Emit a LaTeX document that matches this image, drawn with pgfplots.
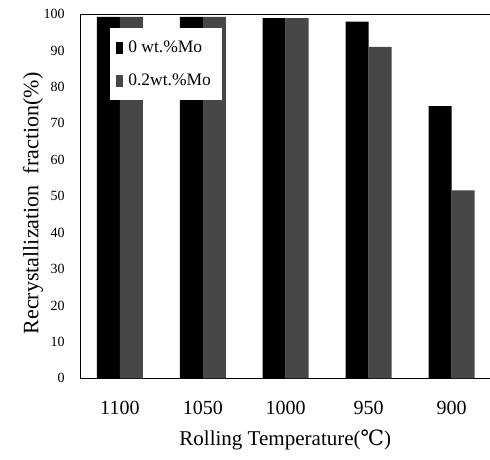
\documentclass[border=0pt]{standalone}
\usepackage{pgfplots}
\pgfplotsset{compat=1.18}
\usepackage{fontspec}
\setmainfont{Liberation Serif}
\newfontfamily\dejavu{DejaVu Serif}
\definecolor{mogray}{gray}{0.28}
\begin{document}
\begin{tikzpicture}
\path[use as bounding box] (-80pt,-81pt) rectangle (409.5pt,378pt);
\begin{axis}[
  at={(0pt,0pt)}, anchor=south west,
  scale only axis, width=410pt, height=364pt,
  ybar=0pt, bar width=23pt,
  xmin=-0.48, xmax=4.47, ymin=0, ymax=100,
  xtick={0,1,2,3,4}, xticklabels={1100,1050,1000,950,900},
  ytick={0,10,...,100},
  major tick length=0pt,
  /pgf/number format/assume math mode=true,
  xticklabel style={font=\fontsize{20}{20}\selectfont, anchor=center, yshift=-30pt},
  yticklabel style={font=\fontsize{14}{14}\selectfont, anchor=east, xshift=-12pt},
  xlabel={Rolling Temperature({\dejavu ℃})},
  xlabel style={font=\fontsize{21}{21}\selectfont, at={(axis description cs:0.5,0)}, anchor=center, yshift=-62pt},
  ylabel={Recrystallization\ \ fraction(\%)},
  ylabel style={font=\fontsize{22}{22}\selectfont, at={(axis description cs:-0.115,0.48)}, anchor=center},
  axis line style={line width=0.8pt},
  legend style={at={(axis description cs:0.073,0.962)}, anchor=north west, draw=none, fill=white,
    font=\fontsize{17.5}{17.5}\selectfont, inner xsep=6pt, inner ysep=11pt, row sep=16pt,
    nodes={inner xsep=5pt}},
  legend image code/.code={\fill[#1] (0pt,-6pt) rectangle (7pt,6pt);},
  legend cell align=left,
]
\addplot[fill=black, draw=none] coordinates {(0,99.2) (1,99.2) (2,98.9) (3,97.9) (4,74.7)};
\addplot[fill=mogray, draw=none] coordinates {(0,99.2) (1,99.2) (2,98.9) (3,91.0) (4,51.6)};
\legend{0 wt.\%Mo, 0.2wt.\%Mo}
\end{axis}
\end{tikzpicture}
\end{document}
